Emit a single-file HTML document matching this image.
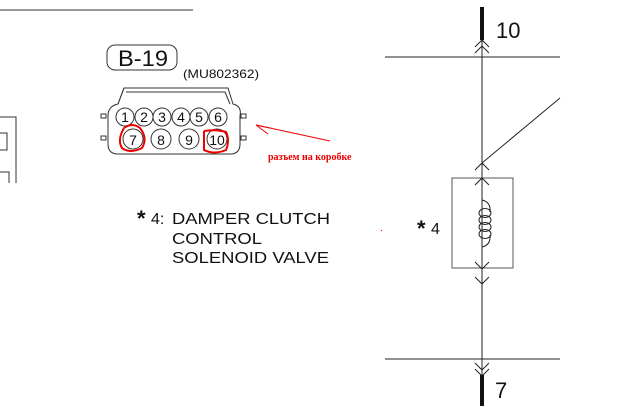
<!DOCTYPE html>
<html><head><style>body{margin:0;background:#fff}svg{display:block}</style></head><body>
<svg width="636" height="419" xmlns="http://www.w3.org/2000/svg" font-family="Liberation Sans, sans-serif">
<rect width="636" height="419" fill="#fff"/>
<g stroke="#333" fill="none" stroke-width="1">
<line x1="0" y1="10" x2="193" y2="10"/>
<polyline points="0,117 16,117 16,183"/>
<polyline points="0,133 7,133 7,150 0,150"/>
<polyline points="0,172 9,172 9,183"/>
<rect x="107" y="45" width="70" height="25" rx="8"/>
<path d="M108,129 L108,116 Q108,106 118,104 L124,88 L228,88 L233,104 Q242,106 240,116 L240,144 Q240,154 230,154 L118,154 Q108,154 108,144 Z"/>
<line x1="124" y1="88" x2="118" y2="104"/>
<polyline points="126,92 225,92 230,104"/>
<rect x="101" y="114" width="5" height="4"/><rect x="101" y="136" width="5" height="4"/>
<rect x="241" y="114" width="5" height="4"/><rect x="241" y="136" width="5" height="4"/>
<circle cx="125" cy="117" r="9"/><circle cx="144" cy="117" r="9"/><circle cx="162" cy="117" r="9"/>
<circle cx="181" cy="117" r="9"/><circle cx="199" cy="117" r="9"/><circle cx="218" cy="117" r="9"/>
<circle cx="133" cy="139" r="10"/><circle cx="161" cy="139" r="10"/><circle cx="189" cy="139" r="10"/><circle cx="217" cy="139" r="10"/>
</g>
<g font-size="14" text-anchor="middle" fill="#111">
<text x="125" y="122">1</text><text x="144" y="122">2</text><text x="162" y="122">3</text><text x="181" y="122">4</text><text x="199" y="122">5</text><text x="218" y="122">6</text>
<text x="133" y="145">7</text><text x="161" y="145">8</text><text x="189" y="145">9</text><text x="217" y="145">10</text>
</g>
<text x="118" y="66" font-size="22" fill="#111" textLength="50" lengthAdjust="spacingAndGlyphs">B-19</text>
<text x="183" y="78" font-size="12" fill="#111" textLength="76" lengthAdjust="spacingAndGlyphs">(MU802362)</text>
<g stroke="#e00" fill="none" stroke-width="2">
<path d="M124,128 Q117,140 122,148 Q130,154 142,148 Q148,138 140,128 Q132,122 124,128"/>
<path d="M204,131 L204,150 Q214,155 226,150 Q230,140 226,132 Q216,129 204,131"/>
</g>
<g stroke="#e00" stroke-width="1" fill="none">
<line x1="256" y1="125" x2="330" y2="141"/><line x1="256" y1="125" x2="270" y2="128"/><line x1="256" y1="125" x2="268" y2="134"/>
</g>
<text x="268" y="160" font-size="10" font-weight="bold" fill="#e00" font-family="Liberation Serif, serif">разъем на коробке</text>
<g font-size="16" fill="#111">
<text x="137" y="226" font-size="22" font-weight="bold">*</text>
<text x="151" y="224">4:</text>
<text x="172" y="224" textLength="158" lengthAdjust="spacingAndGlyphs">DAMPER CLUTCH</text>
<text x="172" y="244" textLength="90" lengthAdjust="spacingAndGlyphs">CONTROL</text>
<text x="172" y="263" textLength="157" lengthAdjust="spacingAndGlyphs">SOLENOID VALVE</text>
<text x="417" y="236" font-size="22" font-weight="bold">*</text>
<text x="431" y="234">4</text>
<text x="496" y="38" font-size="22">10</text>
<text x="495" y="398" font-size="22">7</text>
</g>
<g stroke="#222" fill="none" stroke-width="1">
<line x1="482" y1="10" x2="482" y2="405"/>
<line x1="385" y1="57" x2="560" y2="57"/>
<line x1="385" y1="359" x2="560" y2="359"/>
<line x1="560" y1="98" x2="482" y2="163"/>
<rect x="452" y="178" width="61" height="90" stroke="#555"/>
<polyline points="475,47 482,40 489,47"/><polyline points="475,53 482,46 489,53"/>
<polyline points="475,170 482,163 489,170"/><polyline points="475,185 482,178 489,185"/>
<polyline points="475,262 482,269 489,262"/><polyline points="475,277 482,284 489,277"/>
<polyline points="475,363 482,370 489,363"/><polyline points="475,369 482,376 489,369"/>
<path d="M482,200 Q491,202 490,212 M482,247 Q491,245 490,235"/>
<ellipse cx="485" cy="213" rx="6" ry="4.5"/><ellipse cx="485" cy="220" rx="6" ry="4.5"/><ellipse cx="485" cy="227" rx="6" ry="4.5"/><ellipse cx="485" cy="234" rx="6" ry="4.5"/>
</g>
<rect x="480" y="7" width="4" height="33" fill="#111"/>
<rect x="480" y="375" width="4" height="31" fill="#111"/>
<rect x="381" y="230" width="1" height="1" fill="#e00"/>
</svg>
</body></html>
